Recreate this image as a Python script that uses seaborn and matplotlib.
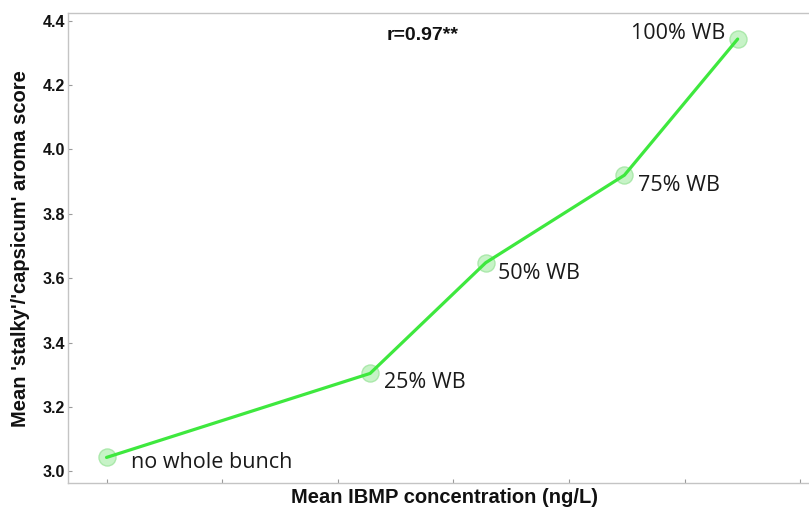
import matplotlib
matplotlib.use("Agg")
import matplotlib.pyplot as plt
import seaborn as sns
import pandas as pd

# Mean IBMP concentration (ng/L) and mean sensory score per treatment
treatments = ["no whole bunch", "25% WB", "50% WB", "75% WB", "100% WB"]
ibmp = [1.0, 3.28, 4.28, 5.48, 6.46]
aroma_score = [3.043, 3.304, 3.648, 3.920, 4.343]
x_ticks = [1, 2, 3, 4, 5, 6, 7]
y_ticks = [3.0, 3.2, 3.4, 3.6, 3.8, 4.0, 4.2, 4.4]
correlation_text = "r=0.97**"

df = pd.DataFrame({"treatment": treatments, "ibmp": ibmp, "score": aroma_score})

sns.set_style("white")
plt.rcParams["font.family"] = ["Liberation Sans", "DejaVu Sans"]

fig = plt.figure(figsize=(8.09, 5.09), dpi=100)
ax = fig.add_axes([0.0841, 0.0501, 0.9159, 0.9244])

line_green = "#3ee83e"
sns.lineplot(data=df, x="ibmp", y="score", ax=ax, color=line_green,
             linewidth=2.3, zorder=3, sort=False)
sns.scatterplot(data=df, x="ibmp", y="score", ax=ax, s=150, marker="o",
                color="#c4f3c4", edgecolor="#a8e8a8", linewidth=1.0,
                alpha=0.95, zorder=2)

# treatment labels placed beside each point (offsets in pixels)
offsets = {
    "no whole bunch": (24, -5, "left"),
    "25% WB": (14, -9, "left"),
    "50% WB": (12, -11, "left"),
    "75% WB": (14, -10, "left"),
    "100% WB": (-12, 6, "right"),
}
for t, xv, yv in zip(treatments, ibmp, aroma_score):
    dx, dy, ha = offsets[t]
    ax.annotate(t, (xv, yv), xytext=(dx * 0.72, dy * 0.72),
                textcoords="offset points", ha=ha, va="center",
                fontsize=15.5, family=["Open Sans", "DejaVu Sans"],
                color="#1a1a1a")

ax.text(0.478, 0.952, correlation_text, transform=ax.transAxes,
        ha="center", va="center", fontsize=14, fontweight="bold",
        color="#111111")

ax.set_xlim(0.667, 7.077)
ax.set_ylim(2.962, 4.424)
ax.set_xticks(x_ticks)
ax.set_xticklabels([])
ax.set_yticks(y_ticks)
ax.set_yticklabels([f"{v:.1f}" for v in y_ticks], fontsize=11.5,
                   fontweight="bold", color="#111111")
ax.tick_params(axis="both", direction="in", length=3, width=0.8,
               color="#9a9a9a", pad=2)
ax.tick_params(axis="x", bottom=True)
ax.tick_params(axis="y", left=True)

for side in ["left", "bottom", "top"]:
    ax.spines[side].set_color("#c4c4c4")
    ax.spines[side].set_linewidth(1.0)
ax.spines["right"].set_visible(False)

ax.set_xlabel("Mean IBMP concentration (ng/L)", fontsize=14.5,
              fontweight="bold", color="#111111")
ax.xaxis.set_label_coords(0.508, -0.0287, transform=ax.transAxes)
ax.xaxis.label.set_va("center")
ax.set_ylabel("Mean 'stalky'/'capsicum' aroma score", fontsize=14.5,
              fontweight="bold", labelpad=9, color="#111111")

fig.savefig("out.png", dpi=100)
